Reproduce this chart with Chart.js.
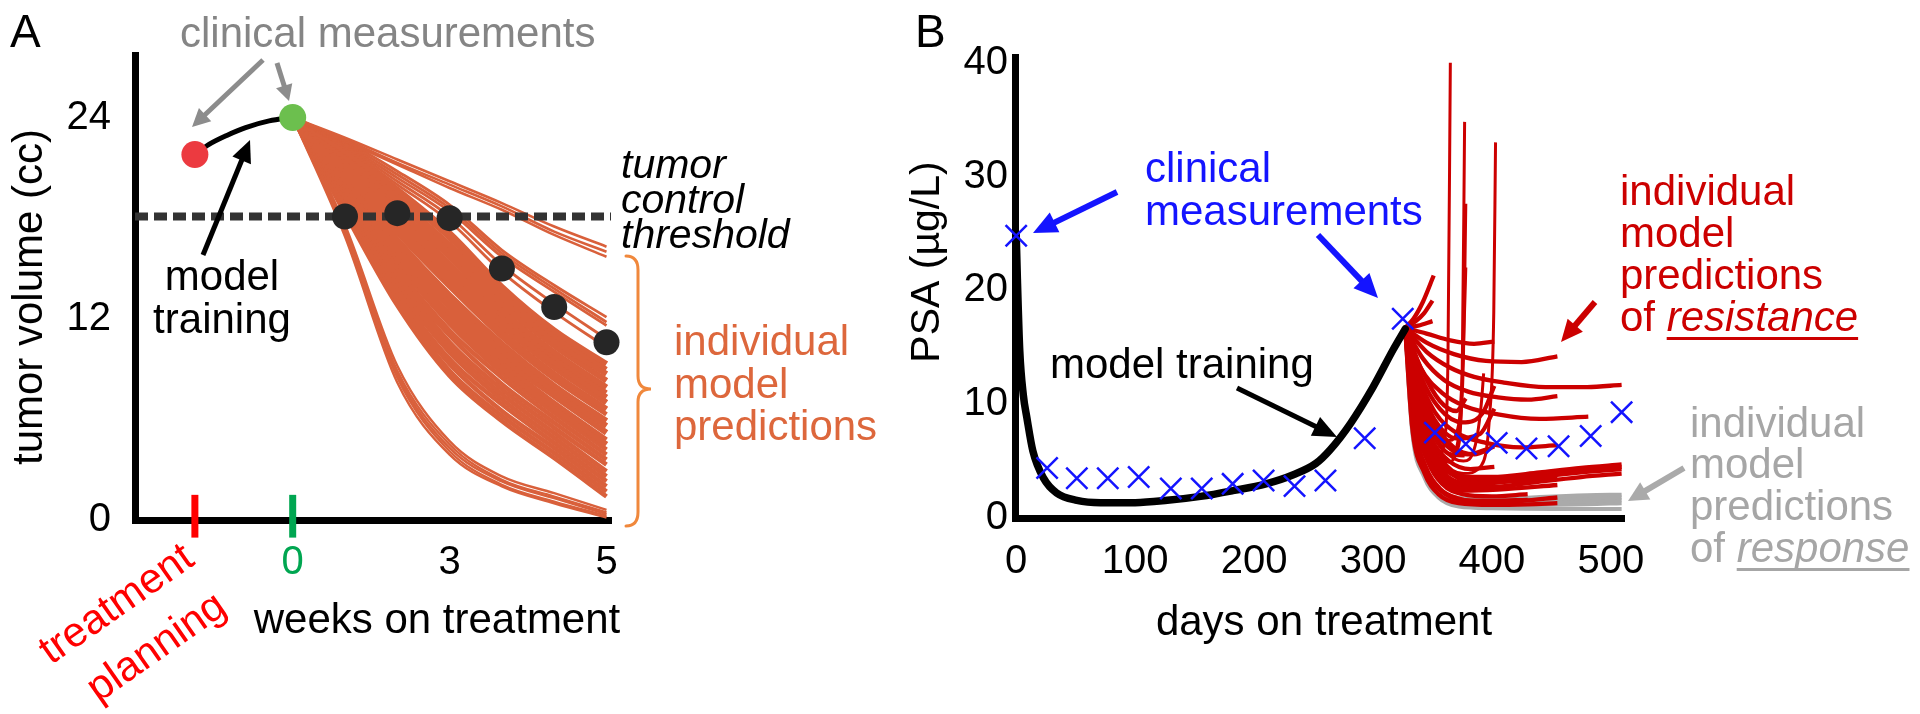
<!DOCTYPE html>
<html><head><meta charset="utf-8">
<script src="https://cdn.jsdelivr.net/npm/chart.js@4.4.0/dist/chart.umd.min.js"></script>
<style>
html,body{margin:0;padding:0;background:#fff;width:1920px;height:714px;overflow:hidden}
#ca{position:absolute;left:0;top:0}
#cb{position:absolute;left:880px;top:0}
</style></head>
<body>
<canvas id="ca" width="880" height="714"></canvas>
<canvas id="cb" width="1040" height="714"></canvas>
<script>
// ================= Panel A data =================
const weeksA = [0, 1, 2, 3, 4, 5, 6];
const xTickValsA = [0, 3, 6];
const xTickLabelsA = ['0', '3', '5'];
const yTickValsA = [0, 12, 24];
const planningWeekA = -1.87;
const measuredWeeksA = [-1.87, 0];
const measuredVolA = [21.8, 24.0];
const trainWeeksA = [-1.87, -1.6, -1.25, -0.9, -0.45, 0];
const trainVolA = [21.8, 22.4, 22.95, 23.4, 23.8, 24.0];
const thresholdA = 18.1;
const laterWeeksA = [1, 2, 3, 4, 5, 6];
const laterVolA = [18.1, 18.3, 18.0, 15.0, 12.7, 10.6];
const predTopA = [
  [24, 22.8, 21.5, 20.2, 18.9, 17.5, 16.3],
  [24, 22.7, 21.3, 20.0, 18.7, 17.2, 16.0],
  [24, 22.6, 21.2, 19.8, 18.5, 17.0, 15.7]
];
const predUpperA = [
  [24, 22.6, 20.8, 18.8, 16.1, 14.0, 12.1],
  [24, 22.5, 20.6, 18.6, 15.9, 13.8, 11.8],
  [24, 22.4, 20.4, 18.4, 15.7, 13.6, 11.6],
  [24, 22.3, 20.2, 18.1, 15.2, 12.9, 10.8],
  [24, 22.2, 20.0, 17.8, 14.8, 12.4, 10.3]
];
const predBandA = [
  [24, 22.0, 19.7, 17.1, 13.9, 11.3, 9.3],
  [24, 21.9, 19.4, 16.8, 13.6, 11.0, 9.0],
  [24, 21.7, 19.1, 16.4, 13.3, 10.7, 8.7],
  [24, 21.6, 18.9, 16.1, 12.9, 10.4, 8.3],
  [24, 21.4, 18.5, 15.7, 12.5, 10.0, 7.9],
  [24, 21.2, 18.3, 15.3, 12.2, 9.7, 7.6],
  [24, 21.1, 18.0, 15.0, 11.9, 9.4, 7.3],
  [24, 20.9, 17.7, 14.6, 11.6, 9.1, 7.0],
  [24, 20.7, 17.3, 14.2, 11.2, 8.7, 6.6],
  [24, 20.6, 17.1, 13.9, 10.9, 8.4, 6.3],
  [24, 20.4, 16.7, 13.4, 10.5, 8.0, 5.9],
  [24, 20.3, 16.5, 13.1, 10.1, 7.7, 5.6],
  [24, 20.1, 16.1, 12.7, 9.7, 7.4, 5.2],
  [24, 19.9, 15.8, 12.3, 9.4, 7.0, 4.8],
  [24, 19.8, 15.6, 12.0, 9.1, 6.7, 4.5],
  [24, 19.6, 15.3, 11.7, 8.8, 6.4, 4.2],
  [24, 19.5, 15.0, 11.3, 8.5, 6.1, 3.9],
  [24, 19.3, 14.7, 11.0, 8.1, 5.8, 3.6],
  [24, 19.2, 14.5, 10.6, 7.8, 5.5, 3.3],
  [24, 19.0, 14.2, 10.3, 7.5, 5.2, 2.9],
  [24, 18.9, 13.9, 10.0, 7.2, 4.9, 2.6],
  [24, 18.7, 13.6, 9.6, 6.9, 4.6, 2.3],
  [24, 18.6, 13.3, 9.3, 6.5, 4.3, 2.0],
  [24, 18.4, 13.1, 8.9, 6.2, 4.0, 1.7],
  [24, 18.3, 12.8, 8.6, 5.9, 3.7, 1.4]
];
const predLowA = [
  [24, 17.6, 9.2, 4.7, 2.6, 1.6, 0.6],
  [24, 17.4, 8.9, 4.5, 2.4, 1.4, 0.45],
  [24, 17.3, 8.7, 4.3, 2.3, 1.3, 0.35],
  [24, 17.1, 8.5, 4.1, 2.1, 1.1, 0.25],
  [24, 16.9, 8.2, 3.9, 2.0, 1.0, 0.15]
];

// ================= Panel B data =================
const xTicksB = [0, 100, 200, 300, 400, 500];
const yTicksB = [0, 10, 20, 30, 40];
const psaDays = [0, 26, 51, 77, 103, 130, 156, 182, 208, 234, 260, 293, 325, 352, 378, 404, 429, 456, 483, 509];
const psaVals = [24.8, 4.4, 3.5, 3.5, 3.6, 2.6, 2.6, 3.0, 3.3, 2.8, 3.3, 7.0, 17.5, 7.5, 6.5, 6.6, 6.1, 6.3, 7.2, 9.3];
const trainDaysB = [0, 1, 3, 6, 9, 14, 23, 34, 51, 71, 100, 127, 155, 182, 210, 233, 252, 264, 281, 300, 317, 327];
const trainValsB = [25.0, 21.0, 14.7, 10.8, 8.8, 5.9, 3.5, 2.2, 1.55, 1.35, 1.35, 1.55, 1.9, 2.4, 3.0, 3.8, 4.8, 6.0, 8.3, 11.5, 14.8, 16.6];
const resistCurvesB = [
  [[327,16.7],[334,17.5],[342,19.0],[351,21.3]],
  [[327,16.7],[336,17.3],[343,18.0],[350,19.1]],
  [[327,16.7],[338,16.9],[350,17.3]],
  [[327,16.7],[345,16.2],[365,15.6],[385,15.3],[402,15.5]],
  [[327,16.7],[345,15.4],[368,14.4],[395,13.8],[425,13.7],[455,14.2]],
  [[327,16.7],[345,14.6],[365,13.2],[385,12.4],[410,11.9],[445,11.5],[480,11.5],[509,11.7]],
  [[327,16.7],[342,14.0],[360,12.1],[380,11.1],[405,10.6],[430,10.4],[455,10.7]],
  [[327,16.7],[340,13.2],[358,11.0],[378,9.8],[405,9.1],[440,8.7],[481,8.9]],
  [[327,16.7],[338,12.5],[352,9.3],[370,7.5],[395,6.6],[425,6.2],[455,6.4]],
  [[327,16.7],[340,12.5],[356,9.6],[375,8.4],[392,9.2],[402,11.6]],
  [[327,16.7],[338,11.8],[352,8.6],[370,7.0],[390,7.4],[402,9.6]],
  [[327,16.7],[337,10.5],[348,6.6],[362,4.4],[380,3.5],[405,3.6],[440,4.0],[475,4.4],[509,4.7]],
  [[327,16.7],[336,9.8],[347,6.0],[360,3.9],[378,3.0],[405,3.1],[440,3.6],[475,4.0],[509,4.3]],
  [[327,16.7],[335,9.2],[345,5.5],[358,3.4],[375,2.6],[400,2.7],[440,3.2],[475,3.6],[509,3.9]],
  [[327,16.7],[336,10.0],[348,6.2],[362,4.2],[380,3.3],[410,3.4],[450,3.9],[480,4.2],[509,4.5]],
  [[327,16.7],[336,10.2],[347,6.3],[360,4.3],[380,3.6],[410,3.6],[455,4.0]],
  [[327,16.7],[336,9.6],[347,5.8],[361,3.7],[380,3.1],[410,3.2],[455,3.5]],
  [[327,16.7],[335,9.0],[346,5.3],[359,3.2],[376,2.4],[405,2.5],[455,2.9]],
  [[327,16.7],[336,9.5],[347,5.6],[360,3.6],[378,2.8],[402,3.0]],
  [[327,16.7],[335,8.8],[346,5.0],[358,3.0],[375,2.1],[400,1.9],[430,2.1]],
  [[327,16.7],[334,8.2],[344,4.3],[357,2.4],[374,1.6],[400,1.5],[430,1.6]],
  [[327,16.7],[334,8.5],[344,4.6],[356,2.6],[372,1.7],[395,1.4],[425,1.5],[455,1.8]],
  [[327,16.7],[333,7.9],[343,4.0],[355,2.1],[372,1.3],[400,1.15],[430,1.2],[455,1.3]],
  [[327,16.7],[339,12.0],[353,8.2],[368,6.2],[385,5.6],[402,6.3]],
  [[327,16.7],[337,10.8],[349,7.0],[364,5.0],[382,4.3],[402,4.5]],
  [[327,16.7],[338,11.4],[351,7.8],[366,6.0],[380,5.6],[395,6.0]],
  [[327,16.7],[341,13.0],[356,10.3],[370,9.4],[378,10.5]],
  [[327,16.7],[337,11.0],[350,7.4],[365,5.6],[377,5.5]]
];
const spikeCurvesB = [
  [[327,16.7],[338,11.0],[348,7.2],[356,5.6],[360,6.8],[363,14],[365,40]],
  [[327,16.7],[340,9.8],[352,6.2],[364,4.9],[371,6.0],[375,13],[377,34.8]],
  [[327,16.7],[342,9.2],[358,5.2],[376,3.9],[391,4.6],[398,9],[401.5,18],[403,33]],
  [[327,16.7],[341,10.4],[354,6.8],[366,5.6],[372,7.2],[376,14],[378,27.6]],
  [[327,16.7],[339,11.5],[352,8.0],[364,6.8],[372,8.2],[376,15],[378,22]],
  [[327,16.7],[343,9.5],[360,6.0],[376,5.0],[386,6.4],[391,10],[393,12.7]]
];
const responseCurvesB = [
  [[327,16.7],[334,8.4],[344,4.4],[356,2.5],[372,1.75],[400,1.65],[440,1.85],[480,2.0],[509,2.05]],
  [[327,16.7],[334,8.3],[344,4.3],[356,2.4],[372,1.6],[400,1.5],[440,1.65],[480,1.75],[509,1.8]],
  [[327,16.7],[333,8.0],[343,4.1],[355,2.2],[372,1.45],[400,1.3],[440,1.4],[480,1.5],[509,1.55]],
  [[327,16.7],[333,7.8],[343,3.9],[355,2.0],[372,1.25],[400,1.1],[440,1.15],[480,1.2],[509,1.3]],
  [[327,16.7],[333,7.5],[343,3.6],[355,1.8],[372,1.0],[400,0.85],[450,0.8],[509,0.8]]
];

// ================= styling =================
const FONT = '"Liberation Sans", Arial, Helvetica, sans-serif';
const ORANGE = '#d9603b';
const RED_B = '#cc0000';
const GREY_B = '#aaaaaa';
const BLUE = '#1414ff';
const GREEN = '#00a651';

function xy(xs, ys) { return xs.map((x, i) => ({x: x, y: ys[i]})); }
function pairs(p) { return p.map(q => ({x: q[0], y: q[1]})); }
function lineDs(data, color, width, order, extra) {
  return Object.assign({data: data, showLine: true, borderColor: color, borderWidth: width,
    pointRadius: 0, fill: false, cubicInterpolationMode: 'monotone', order: order,
    borderCapStyle: 'butt', borderJoinStyle: 'round'}, extra || {});
}

function drawArrow(ctx, a, ox) {
  const x1 = a.x1 - ox, y1 = a.y1, x2 = a.x2 - ox, y2 = a.y2;
  const ang = Math.atan2(y2 - y1, x2 - x1);
  const c = Math.cos(ang), s = Math.sin(ang);
  const bx = x2 - a.hl * c, by = y2 - a.hl * s;
  ctx.strokeStyle = a.color; ctx.fillStyle = a.color; ctx.lineWidth = a.w; ctx.lineCap = 'butt';
  ctx.beginPath(); ctx.moveTo(x1, y1); ctx.lineTo(bx + 2 * c, by + 2 * s); ctx.stroke();
  ctx.beginPath(); ctx.moveTo(x2, y2);
  ctx.lineTo(bx + a.hw / 2 * s, by - a.hw / 2 * c);
  ctx.lineTo(bx - a.hw / 2 * s, by + a.hw / 2 * c);
  ctx.closePath(); ctx.fill();
}
function drawText(ctx, t, ox) {
  ctx.save();
  ctx.translate(t.x - ox, t.y);
  if (t.rot) ctx.rotate(t.rot * Math.PI / 180);
  ctx.textBaseline = t.baseline || 'alphabetic';
  ctx.fillStyle = t.color || '#000';
  const parts = t.parts || [{s: t.s, style: t.style || ''}];
  if (parts.length === 1) {
    ctx.textAlign = t.align || 'left';
    ctx.font = (parts[0].style || '') + ' ' + t.size + 'px ' + FONT;
    ctx.fillText(parts[0].s, 0, 0);
  } else {
    ctx.textAlign = 'left';
    let x = 0;
    for (const p of parts) {
      ctx.font = (p.style || '') + ' ' + t.size + 'px ' + FONT;
      const w = ctx.measureText(p.s).width;
      ctx.fillText(p.s, x, 0);
      if (p.underline) { ctx.fillRect(x, 6, w, 3); }
      x += w;
    }
  }
  ctx.restore();
}
function makeAnnot(id, ox, texts, arrows, extra) {
  return {
    id: id,
    afterDraw(chart) {
      const ctx = chart.ctx;
      ctx.save();
      if (extra) extra(ctx, ox);
      arrows.forEach(a => drawArrow(ctx, a, ox));
      texts.forEach(t => drawText(ctx, t, ox));
      ctx.restore();
    }
  };
}

// ================= Panel A chart =================
const textsA = [
  {s: 'A', x: 10, y: 47, size: 46},
  {s: 'clinical measurements', x: 180, y: 47, size: 42, color: '#858585'},
  {s: 'model', x: 222, y: 290, size: 42, align: 'center'},
  {s: 'training', x: 222, y: 333, size: 42, align: 'center'},
  {s: 'tumor', x: 621, y: 178, size: 41, style: 'italic'},
  {s: 'control', x: 621, y: 213, size: 41, style: 'italic'},
  {s: 'threshold', x: 621, y: 248, size: 41, style: 'italic'},
  {s: 'individual', x: 674, y: 355, size: 42, color: '#dd673c'},
  {s: 'model', x: 674, y: 398, size: 42, color: '#dd673c'},
  {s: 'predictions', x: 674, y: 440, size: 42, color: '#dd673c'},
  {s: 'weeks on treatment', x: 437, y: 633, size: 42, align: 'center'},
  {s: 'tumor volume (cc)', x: 30, y: 297, size: 42, rot: -90, align: 'center', baseline: 'middle'},
  {s: 'treatment', x: 117, y: 605, size: 42, rot: -35, align: 'center', baseline: 'middle', color: '#ff0000'},
  {s: 'planning', x: 157, y: 648, size: 42, rot: -35, align: 'center', baseline: 'middle', color: '#ff0000'}
];
const arrowsA = [
  {x1: 263, y1: 60, x2: 192, y2: 127, color: '#8c8c8c', w: 5, hl: 18, hw: 18},
  {x1: 277, y1: 63, x2: 289, y2: 101, color: '#8c8c8c', w: 5, hl: 16, hw: 17},
  {x1: 203, y1: 255, x2: 250, y2: 140, color: '#000', w: 5, hl: 22, hw: 20}
];
function braceA(ctx, ox) {
  ctx.strokeStyle = '#f0883c'; ctx.lineWidth = 3; ctx.lineCap = 'round';
  ctx.beginPath();
  ctx.moveTo(626 - ox, 256);
  ctx.quadraticCurveTo(638 - ox, 256, 638 - ox, 270);
  ctx.lineTo(638 - ox, 376);
  ctx.quadraticCurveTo(638 - ox, 389, 651 - ox, 389);
  ctx.quadraticCurveTo(638 - ox, 389, 638 - ox, 402);
  ctx.lineTo(638 - ox, 512);
  ctx.quadraticCurveTo(638 - ox, 526, 626 - ox, 526);
  ctx.stroke();
}

const dsA = [];
predTopA.forEach(c => dsA.push(lineDs(xy(weeksA, c), ORANGE, 2.6, 10)));
predUpperA.forEach(c => dsA.push(lineDs(xy(weeksA, c), ORANGE, 2.8, 10)));
predBandA.forEach((c, i) => dsA.push(lineDs(xy(weeksA, c), ORANGE, (i % 4 === 1 || i > 14) ? 4.6 : 6, 10)));
predLowA.forEach(c => dsA.push(lineDs(xy(weeksA, c), ORANGE, 2.4, 10)));
dsA.push(lineDs([{x: -3.015, y: thresholdA}, {x: 6.086, y: thresholdA}], '#333333', 8, 3,
  {borderDash: [13, 6], cubicInterpolationMode: 'default', tension: 0}));
dsA.push(lineDs(xy(trainWeeksA, trainVolA), '#000', 5, 2, {borderCapStyle: 'round'}));
dsA.push({data: xy(laterWeeksA, laterVolA), showLine: false, pointRadius: 13, pointBackgroundColor: '#262626',
  pointBorderWidth: 0, order: 1, clip: false});
dsA.push({data: xy(measuredWeeksA, measuredVolA), showLine: false, pointRadius: 13.5,
  pointBackgroundColor: ['#ec3a40', '#6cbf4e'], pointBorderWidth: 0, order: 0, clip: false});
dsA.push(lineDs([{x: planningWeekA, y: -1.05}, {x: planningWeekA, y: 1.5}], '#ff0000', 7, 0,
  {cubicInterpolationMode: 'default', tension: 0, clip: false}));
dsA.push(lineDs([{x: 0, y: -1.05}, {x: 0, y: 1.5}], GREEN, 7, 0,
  {cubicInterpolationMode: 'default', tension: 0, clip: false}));

new Chart(document.getElementById('ca'), {
  type: 'scatter',
  data: {datasets: dsA},
  options: {
    responsive: false, animation: false, devicePixelRatio: 1,
    layout: {padding: {left: 0, right: 269, top: 55, bottom: 0}},
    plugins: {legend: {display: false}, tooltip: {enabled: false}},
    scales: {
      x: {
        type: 'linear', min: -3.015, max: 6.086,
        afterBuildTicks: s => { s.ticks = xTickValsA.map(v => ({value: v})); },
        afterFit: s => { s.height = 194; },
        grid: {display: false, drawTicks: false},
        border: {display: true, color: '#000', width: 7},
        ticks: {
          padding: 19, autoSkip: false, maxRotation: 0,
          font: {family: FONT, size: 40},
          color: c => (c.tick && c.tick.value === 0) ? GREEN : '#000',
          callback: v => xTickLabelsA[xTickValsA.indexOf(v)]
        }
      },
      y: {
        type: 'linear', min: 0, max: 27.73,
        afterBuildTicks: s => { s.ticks = yTickValsA.map(v => ({value: v})); },
        afterFit: s => { s.width = 135; },
        grid: {display: false, drawTicks: false},
        border: {display: true, color: '#000', width: 7},
        ticks: {padding: 24, font: {family: FONT, size: 40}, color: '#000', callback: v => String(v)}
      }
    }
  },
  plugins: [makeAnnot('annotA', 0, textsA, arrowsA, braceA)]
});

// ================= Panel B chart =================
const textsB = [
  {s: 'B', x: 915, y: 47, size: 46},
  {s: 'PSA (µg/L)', x: 928, y: 262, size: 41, rot: -90, align: 'center', baseline: 'middle'},
  {s: 'clinical', x: 1145, y: 182, size: 42, color: BLUE},
  {s: 'measurements', x: 1145, y: 225, size: 42, color: BLUE},
  {s: 'model training', x: 1050, y: 378, size: 42},
  {s: 'individual', x: 1620, y: 205, size: 42, color: RED_B},
  {s: 'model', x: 1620, y: 247, size: 42, color: RED_B},
  {s: 'predictions', x: 1620, y: 289, size: 42, color: RED_B},
  {x: 1620, y: 331, size: 42, color: RED_B, parts: [{s: 'of '}, {s: 'resistance', style: 'italic', underline: true}]},
  {s: 'individual', x: 1690, y: 437, size: 42, color: '#a6a6a6'},
  {s: 'model', x: 1690, y: 478, size: 42, color: '#a6a6a6'},
  {s: 'predictions', x: 1690, y: 520, size: 42, color: '#a6a6a6'},
  {x: 1690, y: 562, size: 42, color: '#a6a6a6', parts: [{s: 'of '}, {s: 'response', style: 'italic', underline: true}]},
  {s: 'days on treatment', x: 1324, y: 635, size: 42, align: 'center'}
];
const arrowsB = [
  {x1: 1117, y1: 192, x2: 1033, y2: 233, color: BLUE, w: 6, hl: 24, hw: 22},
  {x1: 1318, y1: 235, x2: 1378, y2: 298, color: BLUE, w: 6, hl: 24, hw: 22},
  {x1: 1237, y1: 388, x2: 1337, y2: 437, color: '#000', w: 5, hl: 24, hw: 21},
  {x1: 1595, y1: 302, x2: 1561, y2: 342, color: RED_B, w: 6, hl: 22, hw: 20},
  {x1: 1684, y1: 468, x2: 1628, y2: 501, color: GREY_B, w: 6, hl: 20, hw: 20}
];

const dsB = [];
responseCurvesB.forEach(c => dsB.push(lineDs(pairs(c), GREY_B, 4, 12)));
resistCurvesB.forEach(c => dsB.push(lineDs(pairs(c), RED_B, 4.3, 10)));
spikeCurvesB.forEach(c => dsB.push(lineDs(pairs(c), RED_B, 3, 10)));
dsB.push(lineDs(xy(trainDaysB, trainValsB), '#000', 7.5, 2, {borderCapStyle: 'round'}));
dsB.push({data: xy(psaDays, psaVals), showLine: false, pointStyle: 'crossRot', pointRadius: 15,
  pointBorderColor: BLUE, pointBorderWidth: 2.5, order: 0, clip: false});

new Chart(document.getElementById('cb'), {
  type: 'scatter',
  data: {datasets: dsB},
  options: {
    responsive: false, animation: false, devicePixelRatio: 1,
    layout: {padding: {left: 0, right: 296, top: 57, bottom: 0}},
    plugins: {legend: {display: false}, tooltip: {enabled: false}},
    scales: {
      x: {
        type: 'linear', min: -1, max: 511,
        afterBuildTicks: s => { s.ticks = xTicksB.map(v => ({value: v})); },
        afterFit: s => { s.height = 196; },
        grid: {display: false, drawTicks: false},
        border: {display: true, color: '#000', width: 7},
        ticks: {padding: 20, autoSkip: false, maxRotation: 0, font: {family: FONT, size: 40}, color: '#000',
          callback: v => String(v)}
      },
      y: {
        type: 'linear', min: 0, max: 40.5,
        afterBuildTicks: s => { s.ticks = yTicksB.map(v => ({value: v})); },
        afterFit: s => { s.width = 135; },
        grid: {display: false, drawTicks: false},
        border: {display: true, color: '#000', width: 7},
        ticks: {padding: 7, font: {family: FONT, size: 40}, color: '#000', callback: v => String(v)}
      }
    }
  },
  plugins: [makeAnnot('annotB', 880, textsB, arrowsB, null)]
});
</script>
</body></html>
